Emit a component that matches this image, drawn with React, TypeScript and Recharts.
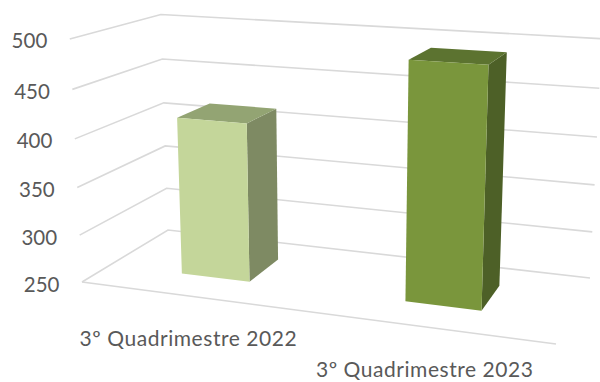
import React from "react";
import { BarChart, Bar, XAxis, YAxis, CartesianGrid } from "recharts";

const categories = ["3º Quadrimestre 2022", "3º Quadrimestre 2023"];
const values = [416, 490];
const yTicks = [250, 300, 350, 400, 450, 500];
const frontColors = ["#C4D69A", "#7A963C"];
const topColors = ["#93A473", "#5C7330"];
const sideColors = ["#7E8A63", "#4D6027"];
const data = categories.map((name, i) => ({ name, value: values[i] }));

const W = 600, H = 382;
const PL = 100, PT = 20, PW = 400, PH = 300;
type P = [number, number];

function homography(p0: P, p1: P, p2: P, p3: P) {
  const sx = p0[0] - p1[0] + p2[0] - p3[0];
  const sy = p0[1] - p1[1] + p2[1] - p3[1];
  const dx1 = p1[0] - p2[0], dx2 = p3[0] - p2[0];
  const dy1 = p1[1] - p2[1], dy2 = p3[1] - p2[1];
  const den = dx1 * dy2 - dx2 * dy1;
  const g = (sx * dy2 - dx2 * sy) / den;
  const h = (dx1 * sy - sx * dy1) / den;
  const a = p1[0] - p0[0] + g * p1[0], b = p3[0] - p0[0] + h * p3[0], c = p0[0];
  const d = p1[1] - p0[1] + g * p1[1], e = p3[1] - p0[1] + h * p3[1], f = p0[1];
  return (u: number, v: number): P => {
    const w = g * u + h * v + 1;
    return [(a * u + b * v + c) / w, (d * u + e * v + f) / w];
  };
}

// Floor of the 3D box: front-left, front-right, back-right, back-left
const floor = homography([82, 282], [556, 344], [590, 278], [168, 230]);
// Vertical vanishing point and the horizon line of the camera
const VP: P = [338, 5380];
const MU = -0.000102;
const horizon = (p: P) => p[1] + 160 - 0.00576 * (p[0] - 810);

function project(u: number, d: number, t: number): P {
  const b = floor(u, d);
  const q = MU * horizon(b) * t;
  const s = q / (1 + q);
  return [b[0] + (VP[0] - b[0]) * s, b[1] + (VP[1] - b[1]) * s];
}
const uOf = (px: number) => (px - PL) / PW;
const tOf = (py: number) => (PT + PH - py) / PH;
const pts = (list: P[]) => list.map((p) => `${p[0].toFixed(2)},${p[1].toFixed(2)}`).join(" ");

const D0 = 0.309, D1 = 0.71;

function Bar3D(props: any) {
  const { x, y, width, height, index } = props;
  const u0 = uOf(x), u1 = uOf(x + width);
  const t1 = tOf(y), t0 = tOf(y + height);
  const front = [project(u0, D0, t0), project(u1, D0, t0), project(u1, D0, t1), project(u0, D0, t1)];
  const side = [project(u1, D0, t0), project(u1, D1, t0), project(u1, D1, t1), project(u1, D0, t1)];
  const top = [project(u0, D0, t1), project(u1, D0, t1), project(u1, D1, t1), project(u0, D1, t1)];
  return (
    <g>
      <polygon points={pts(side)} fill={sideColors[index]} />
      <polygon points={pts(top)} fill={topColors[index]} />
      <polygon points={pts(front)} fill={frontColors[index]} />
    </g>
  );
}

function gridLine(props: any) {
  const t = tOf(props.y1);
  const list: P[] = [project(0, 0, t), project(0, 1, t), project(1, 1, t)];
  return (
    <g key={props.key ?? props.index}>
      <polyline points={pts(list)} fill="none" stroke="#D9D9D9" strokeWidth={1.6} />
      {props.y1 >= PT + PH - 0.5 ? (
        <polyline points={pts([project(0, 0, t), project(1, 0, t)])} fill="none" stroke="#D9D9D9" strokeWidth={1.6} />
      ) : null}
    </g>
  );
}

function YTick(props: any) {
  const { y, payload } = props;
  const p = project(0, 0, tOf(y));
  return (
    <text x={p[0] - 22.5} y={p[1] + 1.5} textAnchor="end" dominantBaseline="central" fontFamily="Lato" fontSize={20.5} fill="#595959">
      {payload.value}
    </text>
  );
}

function XTick(props: any) {
  const { x, payload } = props;
  const p = project(uOf(x), 0, 0);
  return (
    <text x={p[0] - 1.5} y={p[1] + 41.5} textAnchor="middle" dominantBaseline="central" fontFamily="Lato" fontSize={21} letterSpacing={0.55} fill="#595959">
      {payload.value}
    </text>
  );
}

export default function App() {
  return (
    <div style={{ position: "absolute", left: 0, top: 0, width: W, height: H, background: "#fff" }}>
      <BarChart
        width={W}
        height={H}
        data={data}
        margin={{ top: PT, left: PL - 40, right: W - PL - PW, bottom: H - PT - PH - 30 }}
        barCategoryGap="34.3%"
      >
        <CartesianGrid vertical={false} horizontal={gridLine as any} />
        <XAxis dataKey="name" height={30} axisLine={false} tickLine={false} tick={XTick as any} interval={0} />
        <YAxis width={40} domain={[250, 500]} ticks={yTicks} axisLine={false} tickLine={false} tick={YTick as any} />
        <Bar dataKey="value" isAnimationActive={false} shape={Bar3D as any} />
      </BarChart>
    </div>
  );
}
